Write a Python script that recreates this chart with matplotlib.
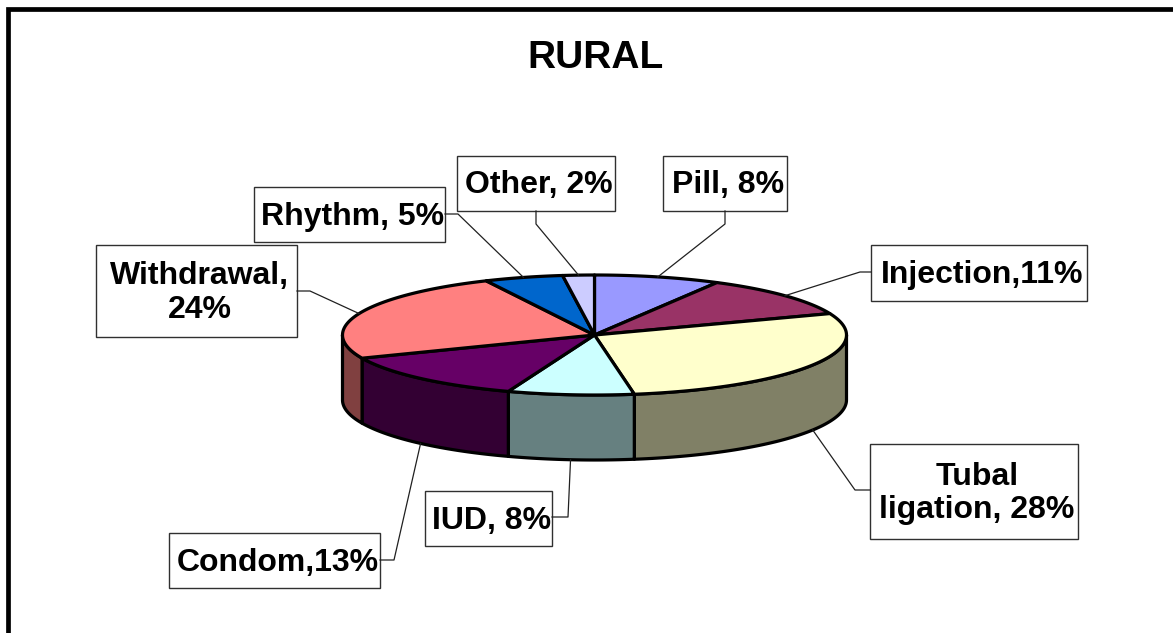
import numpy as np
import matplotlib
matplotlib.use('Agg')
import matplotlib.pyplot as plt
from matplotlib.patches import Polygon, Rectangle

plt.rcParams['font.family'] = ['Liberation Sans', 'DejaVu Sans']

title = 'RURAL'
names = ['Pill', 'Injection', 'Tubal ligation', 'IUD', 'Condom', 'Withdrawal', 'Rhythm', 'Other']
values = [8, 11, 28, 8, 13, 24, 5, 2]
labels = ['Pill, 8%', 'Injection,11%', 'Tubal\nligation, 28%', 'IUD, 8%',
          'Condom,13%', 'Withdrawal,\n24%', 'Rhythm, 5%', 'Other, 2%']
top_colors = ['#9999FF', '#993366', '#FFFFCC', '#CCFFFF', '#660066', '#FF8080', '#0066CC', '#CCCCFF']
side_colors = ['#4D4D80', '#4D1A33', '#808066', '#668080', '#330033', '#804040', '#003366', '#666680']

# label boxes in pixels: left, top, right, bottom
boxes = [(663, 156, 787, 211), (871, 245, 1087, 301), (870, 444, 1078, 539), (425, 491, 552, 546),
         (169, 533, 380, 588), (96, 245, 297, 337), (254, 187, 445, 242), (457, 156, 615, 211)]
# leader line: start on the box, elbow
leaders = [((725, 211), (725, 224)), ((871, 272), (860, 272)), ((870, 490), (855, 490)),
           ((552, 517), (568, 517)), ((380, 560), (394, 560)), ((297, 291), (310, 291)),
           ((445, 214), (458, 214)), ((536, 211), (536, 224))]

cx, cy = 594.5, 335
rx, ry = 252, 60
depth = 65


def rim(deg, drop=0):
    # angle runs clockwise from 12 o'clock
    a = np.radians(deg)
    return cx + rx * np.sin(a), cy - ry * np.cos(a) + drop


fig = plt.figure(figsize=(11.73, 6.33), dpi=100)
ax = fig.add_axes([0, 0, 1, 1])
ax.set_xlim(0, 1173)
ax.set_ylim(633, 0)
ax.axis('off')

# chart frame, cut off by the image on the right and bottom
ax.plot([8, 8, 1180], [640, 9, 9], color='black', lw=3.4, solid_joinstyle='miter', zorder=1)

edges = np.cumsum([0] + values) / sum(values) * 360
lw = 2.3

# side wall, only the front half shows
for i in range(len(values)):
    a0 = max(edges[i], 90)
    a1 = min(edges[i + 1], 270)
    if a1 <= a0:
        continue
    t = np.linspace(a0, a1, 80)
    xs, ys = rim(t)
    xb, yb = rim(t[::-1], depth)
    pts = np.column_stack([np.r_[xs, xb], np.r_[ys, yb]])
    ax.add_patch(Polygon(pts, closed=True, fc=side_colors[i], ec='black', lw=lw, joinstyle='round', zorder=2))

# top face
for i in range(len(values)):
    t = np.linspace(edges[i], edges[i + 1], 80)
    xs, ys = rim(t)
    pts = np.column_stack([np.r_[cx, xs], np.r_[cy, ys]])
    ax.add_patch(Polygon(pts, closed=True, fc=top_colors[i], ec='black', lw=lw, joinstyle='round', zorder=3))

# labels and leaders
for i in range(len(values)):
    l, t, r, b = boxes[i]
    ax.add_patch(Rectangle((l, t), r - l, b - t, fc='white', ec='#303030', lw=1.0, zorder=4))
    ax.text((l + r) / 2 + 3, (t + b) / 2 + 2, labels[i], ha='center', va='center', ma='center',
            fontsize=23, fontweight='bold', color='black', linespacing=1.17, zorder=5)
    mid = (edges[i] + edges[i + 1]) / 2
    front = 90 < mid < 270
    end = rim(mid, depth if front else 0)
    start, elbow = leaders[i]
    ax.plot([start[0], elbow[0], end[0]], [start[1], elbow[1], end[1]], color='#202020', lw=0.9, zorder=4)

ax.text(595, 58, title, ha='center', va='center', fontsize=28, fontweight='bold', color='black')

fig.savefig('out.png', dpi=100)
